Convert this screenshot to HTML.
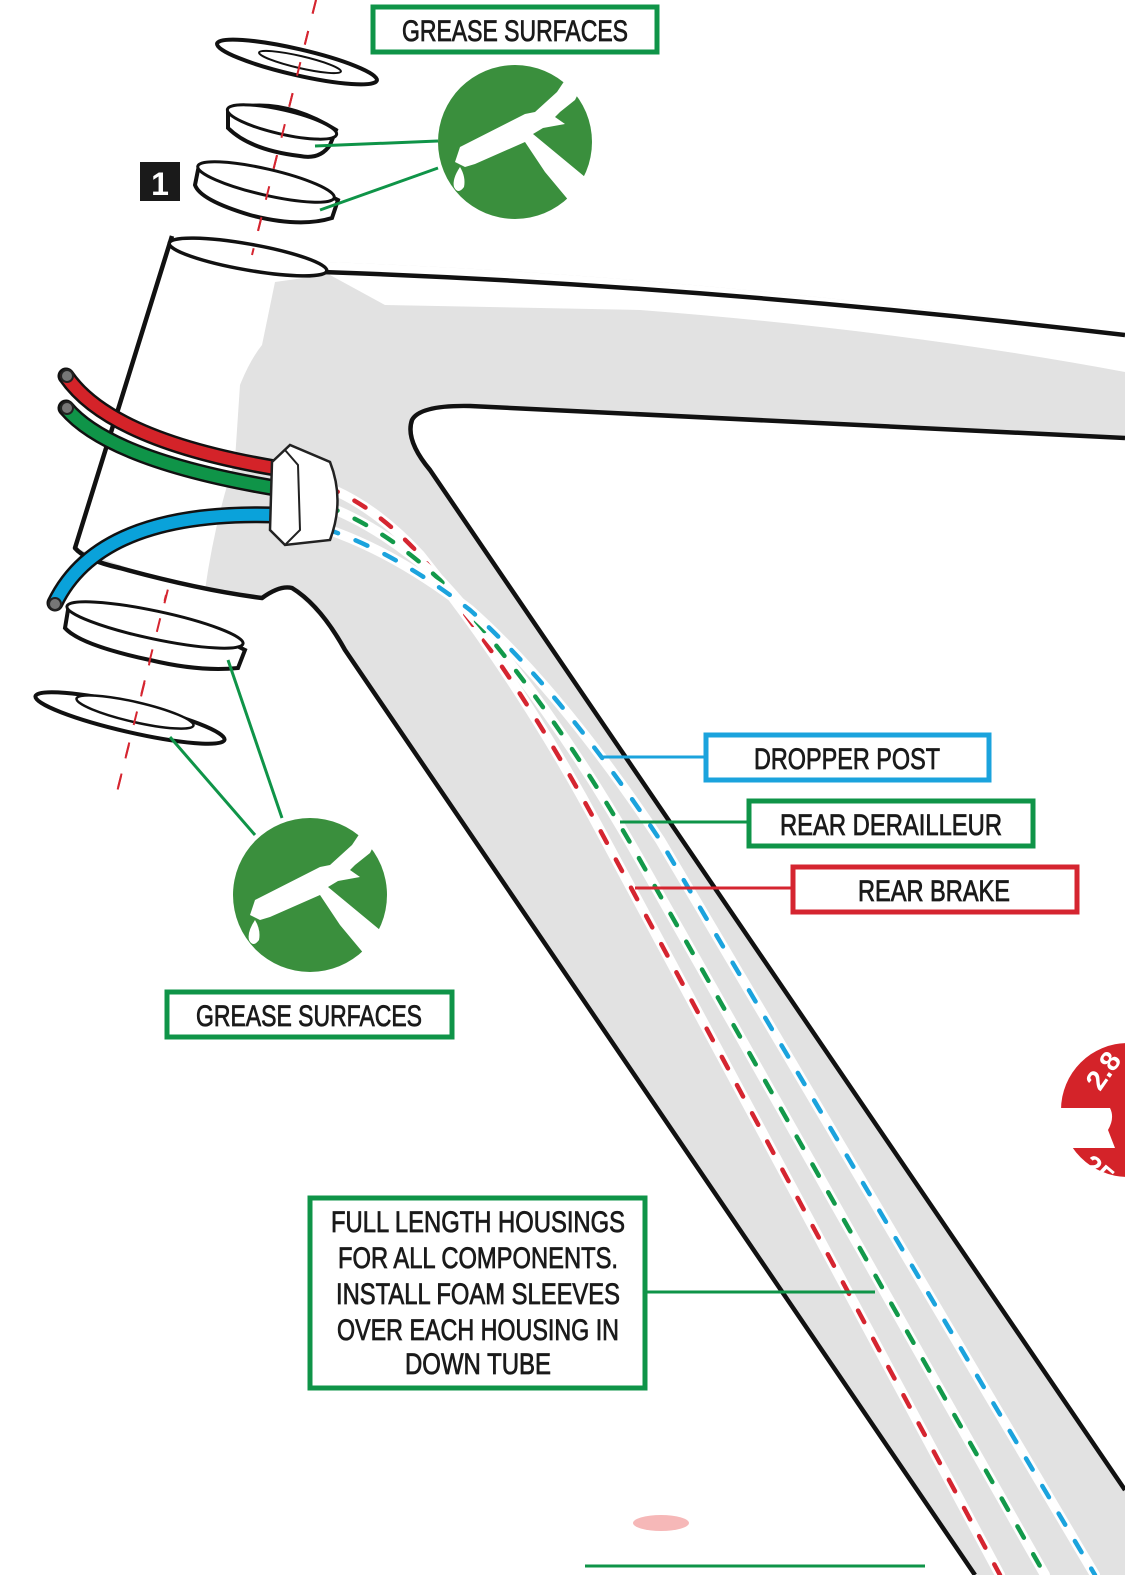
<!DOCTYPE html>
<html><head><meta charset="utf-8"><style>
html,body{margin:0;padding:0;background:#fff;}
svg{display:block}
text{font-family:"Liberation Sans Narrow","Liberation Sans",sans-serif;}
</style></head><body>
<svg width="1125" height="1575" viewBox="0 0 1125 1575" xmlns="http://www.w3.org/2000/svg">
<defs>
<g id="gun">
  <circle r="77" fill="#3a8f3d"/>
  <path fill="#fff" d="M-60,20 L-55,5 L10,-28 L20,-30 L42,-50 L50,-62 L62,-70 L68,-58 L60,-42 L45,-30 L40,-25 L50,-18 L28,-14 L18,-8 L70,35 L55,60 L30,30 L10,0 L-40,22 L-50,25 Z"/>
  <path fill="#fff" d="M-55,25 q-8,12 -6,20 q4,8 10,0 q2,-10 -4,-20z"/>
</g>
</defs>

<!-- axis (behind frame) -->
<path d="M316,0 L115,800" stroke="#d52530" stroke-width="2" stroke-dasharray="14 18"/>

<!-- frame fill -->
<path fill="#e2e2e2" stroke="none" d="M170,238 L75,548 Q85,560 120,568 Q200,590 265,598 L285,585 Q320,610 345,650 L975,1575 L1125,1575 L1125,1490 L430,470 Q405,440 412,420 Q420,405 470,406 L1125,438 L1125,335 Q700,275 325,262 Z"/>
<path fill="#fff" d="M172,238 L77,548 Q120,568 205,590 Q215,520 235,460 L240,385 Q250,360 262,345 L275,282 L325,275 L330,262 Z"/>
<path fill="#fff" d="M325,262 L330,275 L385,305 L640,310 Q900,330 1125,372 L1125,335 Q700,275 325,262 Z"/>
<g fill="none" stroke="#111" stroke-width="4.5" stroke-linejoin="round">
  <path d="M172,236 L75,548 Q85,560 120,568 Q200,590 262,598 Q280,585 292,588 Q320,605 345,650 L975,1575"/>
  <path d="M1125,1490 L430,470 Q405,440 412,420 Q420,405 470,406 L1125,438"/>
  <path d="M322,272 Q700,285 1125,335"/>
  <ellipse cx="248" cy="257" rx="80" ry="13" transform="rotate(10 248 257)" fill="#fff" stroke-width="3.5"/>
</g>

<!-- dashed routes -->
<g fill="none" stroke-linecap="round">
  <path d="M295,478 Q360,490 420,555 Q520,680 600,830 L1000,1575" stroke="#fff" stroke-width="10"/>
  <path d="M295,478 Q360,490 420,555 Q520,680 600,830 L1000,1575" stroke="#d52530" stroke-width="4.5" stroke-dasharray="13 19"/>
  <path d="M295,496 Q370,515 440,580 Q550,700 640,860 L1045,1575" stroke="#fff" stroke-width="10"/>
  <path d="M295,496 Q370,515 440,580 Q550,700 640,860 L1045,1575" stroke="#12994a" stroke-width="4.5" stroke-dasharray="13 19"/>
  <path d="M295,520 Q380,540 470,610 Q560,690 660,840 L1095,1575" stroke="#fff" stroke-width="10"/>
  <path d="M295,520 Q380,540 470,610 Q560,690 660,840 L1095,1575" stroke="#1ba3dd" stroke-width="4.5" stroke-dasharray="13 19"/>
</g>

<!-- cables -->
<g fill="none" stroke-linecap="round">
  <path d="M66,376 Q110,440 275,468" stroke="#111" stroke-width="17"/>
  <path d="M66,376 Q110,440 275,468" stroke="#d42329" stroke-width="12"/>
  <path d="M66,408 Q110,460 275,488" stroke="#111" stroke-width="17"/>
  <path d="M66,408 Q110,460 275,488" stroke="#0f9448" stroke-width="12"/>
  <path d="M55,603 Q100,510 275,515" stroke="#111" stroke-width="17"/>
  <path d="M55,603 Q100,510 275,515" stroke="#0aa2da" stroke-width="12"/>
</g>
<g fill="#777" stroke="#222" stroke-width="2">
  <circle cx="67" cy="376" r="6"/><circle cx="67" cy="408" r="6"/><circle cx="55" cy="604" r="6"/>
</g>
<path d="M272,462 L290,445 L330,462 Q345,500 330,540 L285,545 L270,530 Z" fill="#fff" stroke="#222" stroke-width="2.5"/>
<path d="M285,450 L298,465 L300,530 L285,545" fill="none" stroke="#222" stroke-width="2"/>

<!-- headset parts -->
<g fill="#fff" stroke="#111" stroke-width="4">
  <ellipse cx="297" cy="62" rx="82" ry="13" transform="rotate(13 297 62)"/>
  <ellipse cx="300" cy="62" rx="42" ry="6" transform="rotate(13 300 62)" stroke-width="2"/>
  <path d="M228,110 Q280,95 336,130 L330,145 Q320,160 300,156 Q250,150 228,128 Z"/>
  <ellipse cx="282" cy="122" rx="56" ry="12" transform="rotate(13 282 122)" stroke-width="3"/>
  <path d="M198,170 Q260,160 338,200 L332,218 Q300,228 250,215 Q200,200 195,185 Z"/>
  <ellipse cx="266" cy="182" rx="70" ry="13" transform="rotate(13 266 182)" stroke-width="3"/>
  <path d="M68,610 Q150,600 245,650 L238,668 Q200,672 150,660 Q80,645 65,628 Z"/>
  <ellipse cx="155" cy="625" rx="90" ry="14" transform="rotate(12 155 625)" stroke-width="3"/>
  <ellipse cx="130" cy="718" rx="97" ry="14" transform="rotate(13 130 718)"/>
  <ellipse cx="135" cy="712" rx="60" ry="10" transform="rotate(13 135 712)" stroke-width="2.5"/>
</g>
<!-- axis over parts -->
<g stroke="#d52530" stroke-width="2" stroke-dasharray="14 18">
  <path d="M316,0 L252,255"/>
  <path d="M166,595 L115,800" stroke-dashoffset="8"/>
</g>

<rect x="140" y="162" width="40" height="39" fill="#1a1a1a"/>
<text x="160" y="195" font-size="32" font-weight="bold" fill="#fff" text-anchor="middle" style="font-family:'Liberation Sans',sans-serif">1</text>

<use href="#gun" x="515" y="142"/>
<use href="#gun" x="310" y="895"/>

<g stroke-width="3" fill="none">
  <path d="M315,146 L438,141" stroke="#0f9448"/>
  <path d="M320,210 L438,168" stroke="#0f9448"/>
  <path d="M228,660 L282,818" stroke="#0f9448"/>
  <path d="M170,737 L255,835" stroke="#0f9448"/>
  <path d="M600,757 L704,757" stroke="#1ba3dd"/>
  <path d="M620,822 L747,822" stroke="#0f9448"/>
  <path d="M635,888 L791,888" stroke="#d52530"/>
  <path d="M647,1292 L875,1292" stroke="#0f9448"/>
  <path d="M585,1566 L925,1566" stroke="#0f9448"/>
</g>

<g fill="#fff" stroke-width="5">
  <rect x="373" y="7" width="284" height="45" stroke="#0f9448"/>
  <rect x="167" y="992" width="285" height="45" stroke="#0f9448"/>
  <rect x="706" y="735" width="283" height="45" stroke="#1ba3dd"/>
  <rect x="749" y="801" width="284" height="45" stroke="#0f9448"/>
  <rect x="793" y="867" width="284" height="45" stroke="#d52530"/>
  <rect x="310" y="1198" width="335" height="190" stroke="#0f9448"/>
</g>
<g fill="#1a1a1a" stroke="#1a1a1a" stroke-width="0.8" font-size="30" text-anchor="middle">
  <text x="515" y="41" textLength="226" lengthAdjust="spacingAndGlyphs">GREASE SURFACES</text>
  <text x="309" y="1026" textLength="226" lengthAdjust="spacingAndGlyphs">GREASE SURFACES</text>
  <text x="847" y="769" textLength="186" lengthAdjust="spacingAndGlyphs">DROPPER POST</text>
  <text x="891" y="835" textLength="222" lengthAdjust="spacingAndGlyphs">REAR DERAILLEUR</text>
  <text x="934" y="901" textLength="152" lengthAdjust="spacingAndGlyphs">REAR BRAKE</text>
  <text x="478" y="1232" textLength="294" lengthAdjust="spacingAndGlyphs">FULL LENGTH HOUSINGS</text>
  <text x="478" y="1268" textLength="280" lengthAdjust="spacingAndGlyphs">FOR ALL COMPONENTS.</text>
  <text x="478" y="1304" textLength="284" lengthAdjust="spacingAndGlyphs">INSTALL FOAM SLEEVES</text>
  <text x="478" y="1340" textLength="282" lengthAdjust="spacingAndGlyphs">OVER EACH HOUSING IN</text>
  <text x="478" y="1374" textLength="146" lengthAdjust="spacingAndGlyphs">DOWN TUBE</text>
</g>

<circle cx="1128" cy="1110" r="67" fill="#d42329"/>
<path d="M1058,1108 L1110,1108 Q1115,1118 1108,1130 L1115,1148 L1058,1148 Z" fill="#fff"/>
<text x="1100" y="1092" font-size="28" font-weight="bold" fill="#fff" transform="rotate(-55 1100 1092)" style="font-family:'Liberation Sans',sans-serif">2.8</text>
<text x="1080" y="1168" font-size="28" font-weight="bold" fill="#fff" transform="rotate(40 1080 1168)" style="font-family:'Liberation Sans',sans-serif">25</text>

<ellipse cx="661" cy="1523" rx="28" ry="8" fill="#f4a6a6" opacity="0.8"/>
</svg>
</body></html>
